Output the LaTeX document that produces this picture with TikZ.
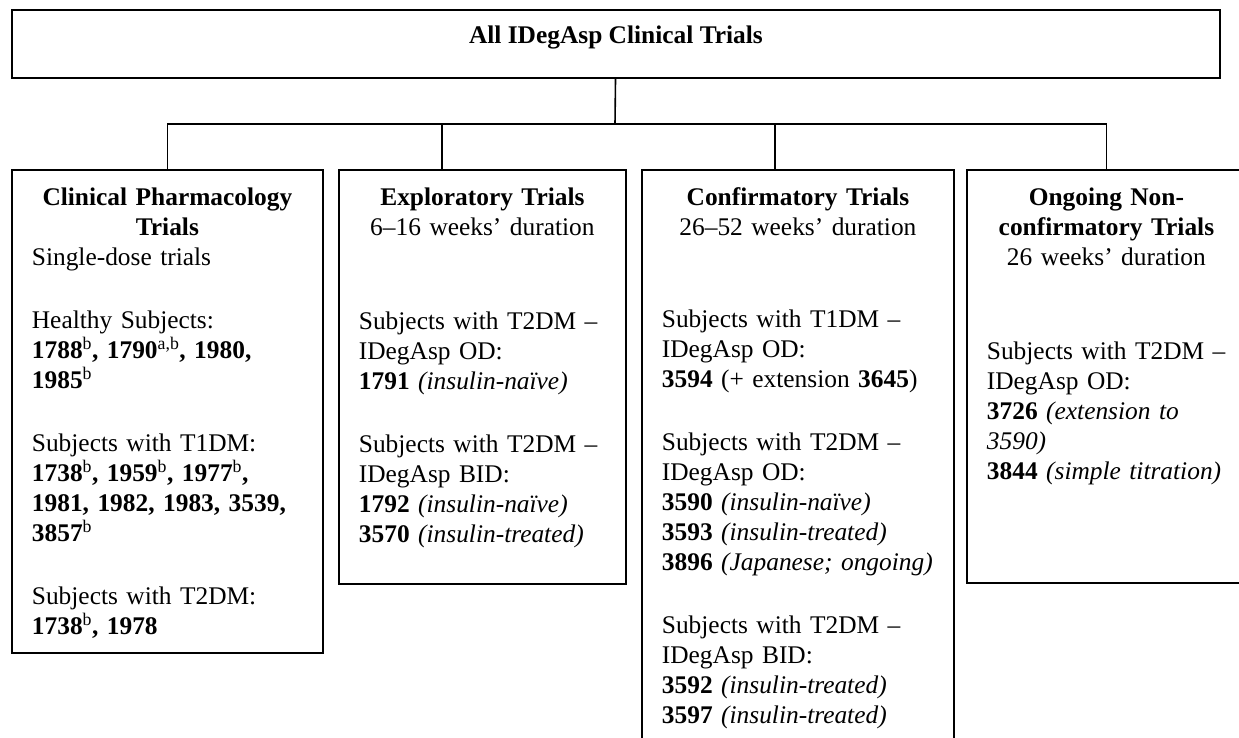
\documentclass[tikz,border=0pt]{standalone}
\usepackage{fontspec}
\setmainfont{Liberation Serif}
\usepackage{tikz}
\usetikzlibrary{%
  positioning
 ,calc
}
\tikzstyle{chart}=[x=1pt,y=-1pt,line width=1.6pt,font=\fontsize{25.4}{30}\selectfont]
\tikzstyle{topbox}=[draw=black,line width=1.8pt,rectangle,anchor=north west,inner sep=0pt]
\tikzstyle{trial}=[topbox,inner xsep=20pt,text height=36pt]
\newcommand{\trialnote}[1]{\textsuperscript{\mdseries #1}}
\newcommand{\trialgap}{\\[33pt]}

\begin{document}
\begin{tikzpicture}[chart]
  \clip (0,0) rectangle (1239,737);
  \node[topbox,minimum width=1208pt,minimum height=68pt,text height=12pt,text depth=12pt]
    (all) at (11,9) {\textbf{All IDegAsp Clinical Trials}};
%
  \node[trial,text width=271pt,text depth=447pt] (cp) at (11,169)
    {{\centering\textbf{Clinical Pharmacology}\\\textbf{Trials}\par}
     \raggedright Single-dose trials\trialgap
     Healthy Subjects:\\
     \textbf{1788\trialnote{b}, 1790\trialnote{a,b}, 1980,}\\
     \textbf{1985\trialnote{b}}\trialgap
     Subjects with T1DM:\\
     \textbf{1738\trialnote{b}, 1959\trialnote{b}, 1977\trialnote{b},}\\
     \textbf{1981, 1982, 1983, 3539,}\\
     \textbf{3857\trialnote{b}}\trialgap
     Subjects with T2DM:\\
     \textbf{1738\trialnote{b}, 1978}};
  \node[trial,text width=247pt,text depth=378pt] (ex) at (338,169)
    {{\centering\textbf{Exploratory Trials}\\6--16 weeks' duration\par}
     \vspace{64pt}\raggedright Subjects with T2DM --\\
     IDegAsp OD:\\
     \textbf{1791} \textit{(insulin-naïve)}\trialgap
     Subjects with T2DM --\\
     IDegAsp BID:\\
     \textbf{1792} \textit{(insulin-naïve)}\\
     \textbf{3570} \textit{(insulin-treated)}};
  \node[trial,text width=272pt,text depth=564pt] (cf) at (641,169)
    {{\centering\textbf{Confirmatory Trials}\\26--52 weeks' duration\par}
     \vspace{62pt}\raggedright Subjects with T1DM --\\
     IDegAsp OD:\\
     \textbf{3594} (+ extension \textbf{3645})\trialgap
     Subjects with T2DM --\\
     IDegAsp OD:\\
     \textbf{3590} \textit{(insulin-naïve)}\\
     \textbf{3593} \textit{(insulin-treated)}\\
     \textbf{3896} \textit{(Japanese; ongoing)}\trialgap
     Subjects with T2DM --\\
     IDegAsp BID:\\
     \textbf{3592} \textit{(insulin-treated)}\\
     \textbf{3597} \textit{(insulin-treated)}};
  \node[trial,text width=239pt,text depth=377pt] (on) at (966,169)
    {{\centering\textbf{Ongoing Non-}\\\textbf{confirmatory Trials}\\26 weeks' duration\par}
     \vspace{64pt}\raggedright Subjects with T2DM --\\
     IDegAsp OD:\\
     \textbf{3726} \textit{(extension to}\\
     \textit{3590)}\\
     \textbf{3844} \textit{(simple titration)}};
% tree connectors
  \coordinate (bus) at (615,124);
  \coordinate (d_ex) at (442,169);
  \coordinate (d_cf) at (775,169);
  \draw (all) -- (bus);
  \draw (bus) -| (cp);
  \draw (bus) -| (d_ex);
  \draw (bus) -| (d_cf);
  \draw (bus) -| (on);
\end{tikzpicture}
\end{document}
